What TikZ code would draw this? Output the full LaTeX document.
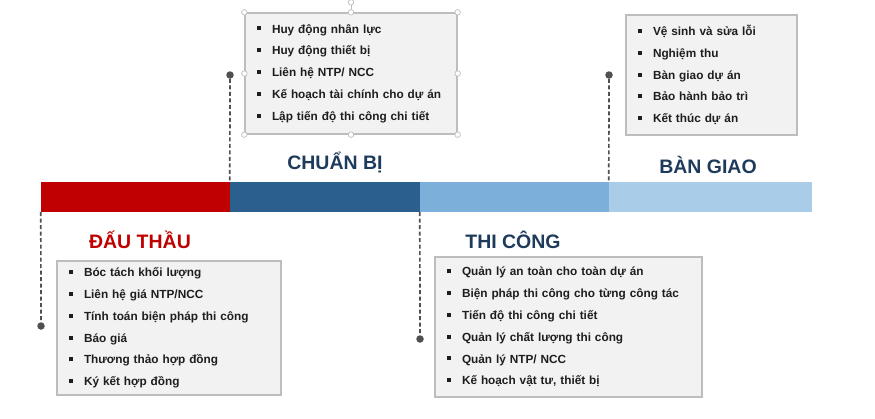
\documentclass[tikz,border=0pt]{standalone}
\usepackage{fontspec}
\setmainfont{Liberation Sans}
\usetikzlibrary{positioning}
\definecolor{tlred}{HTML}{C00000}
\definecolor{tldark}{HTML}{2B5F8E}
\definecolor{tlmid}{HTML}{7DAFDB}
\definecolor{tllight}{HTML}{A9CCE8}
\definecolor{tlnavy}{HTML}{1F3B5C}
\definecolor{tlink}{HTML}{1E1E1E}
\definecolor{tlgrey}{HTML}{505050}
\definecolor{tlpale}{HTML}{F2F2F2}
\definecolor{tledge}{HTML}{BDBDBD}
\newcommand\tlitem{\rule[0.22em]{4pt}{4pt}\hspace{11pt}}
\tikzset{
  tl seg/.style={draw=none, minimum height=30, inner sep=0},
  tl title/.style={font=\fontsize{19.5}{22}\selectfont\bfseries, text=tlnavy},
  tl box/.style={draw=tledge, line width=1.3pt, fill=tlpale, inner xsep=12, inner ysep=0,
    align=left, text=tlink, font=\fontsize{11.8}{21.8}\selectfont\bfseries},
  tl dot/.style={circle, fill=tlgrey, minimum size=7.5, inner sep=0},
  tl dash/.style={draw=tlgrey, line width=1.7pt, dash pattern=on 4pt off 2.5pt},
  tl handle/.style={circle, draw=tledge, fill=white, line width=0.7pt, minimum size=5.5, inner sep=0}
}

\begin{document}
\begin{tikzpicture}[x=1pt, y=-1pt]
  \useasboundingbox (0,0) rectangle (875,418);
  % time bar
  \node[tl seg, fill=tlred, minimum width=189] (bid) at (135.5,197) {};
  \node[tl seg, fill=tldark, minimum width=190] (prep) at (325,197) {};
  \node[tl seg, fill=tlmid, minimum width=189] (build) at (514.5,197) {};
  \node[tl seg, fill=tllight, minimum width=203] (hand) at (710.5,197) {};
  % markers
  \node[tl dot] (biddot) at (41,326) {};
  \node[tl dot] (prepdot) at (230,75) {};
  \node[tl dot] (builddot) at (420,339) {};
  \node[tl dot] (handdot) at (609,75) {};
  \draw[tl dash] (bid.south west) -- (biddot);
  \draw[tl dash] (prepdot) -- (prep.north west);
  \draw[tl dash] (build.south west) -- (builddot);
  \draw[tl dash] (handdot) -- (hand.north west);
  % phase titles
  \node[tl title, text=tlred] (bidtitle) at (140,240) {ĐẤU THẦU};
  \node[tl title] (preptitle) at (335,163) {CHUẨN BỊ};
  \node[tl title] (buildtitle) at (513,240) {THI CÔNG};
  \node[tl title] (handtitle) at (708,165) {BÀN GIAO};
  % task lists
  \node[tl box, minimum width=224, minimum height=134, text width=200] (bidbox) at (169,328)
    {\tlitem Bóc tách khối lượng\\ \tlitem Liên hệ giá NTP/NCC\\ \tlitem Tính toán biện pháp thi công\\
     \tlitem Báo giá\\ \tlitem Thương thảo hợp đồng\\ \tlitem Ký kết hợp đồng};
  \node[tl box, minimum width=212, minimum height=121, text width=188] (prepbox) at (351,73.5)
    {\tlitem Huy động nhân lực\\ \tlitem Huy động thiết bị\\ \tlitem Liên hệ NTP/ NCC\\
     \tlitem Kế hoạch tài chính cho dự án\\ \tlitem Lập tiến độ thi công chi tiết};
  \node[tl box, minimum width=267, minimum height=140, text width=243] (buildbox) at (568.5,327)
    {\tlitem Quản lý an toàn cho toàn dự án\\ \tlitem Biện pháp thi công cho từng công tác\\
     \tlitem Tiến độ thi công chi tiết\\ \tlitem Quản lý chất lượng thi công\\
     \tlitem Quản lý NTP/ NCC\\ \tlitem Kế hoạch vật tư, thiết bị};
  \node[tl box, minimum width=171, minimum height=120, text width=147] (handbox) at (711.5,75)
    {\tlitem Vệ sinh và sửa lỗi\\ \tlitem Nghiệm thu\\ \tlitem Bàn giao dự án\\
     \tlitem Bảo hành bảo trì\\ \tlitem Kết thúc dự án};
  % selection handles
  \node[tl handle] (rot) at ([yshift=10pt]prepbox.north) {};
  \draw[tledge, line width=0.7pt] (rot) -- (prepbox.north);
  \foreach \a/\n in {north west/nw, north/n, north east/ne, east/e, south east/se, south/s, south west/sw, west/w}
    \node[tl handle] (handle\n) at (prepbox.\a) {};
\end{tikzpicture}
\end{document}
